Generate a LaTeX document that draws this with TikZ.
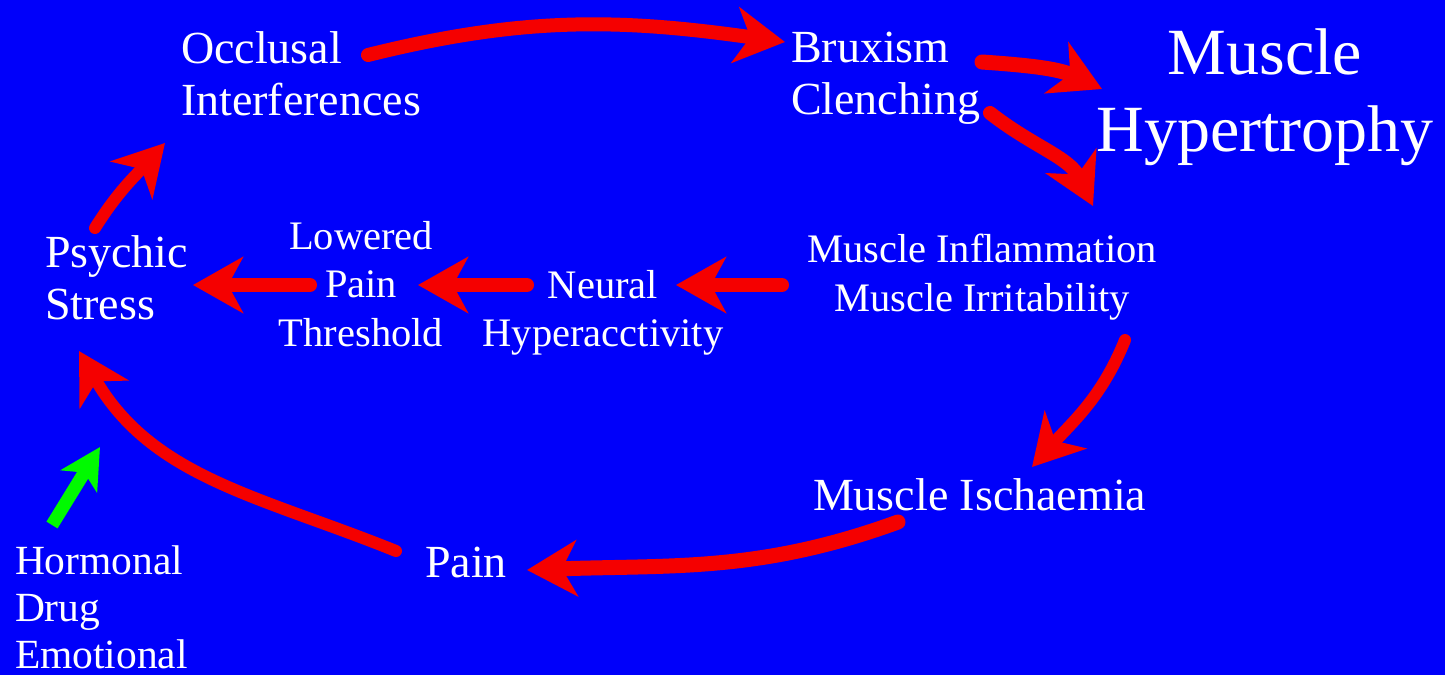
\documentclass[tikz,border=0pt]{standalone}
\usepackage{fontspec}
\setmainfont{Liberation Serif}
\usetikzlibrary{arrows.meta,calc}
\definecolor{bgblue}{RGB}{0,0,250}
\definecolor{arrred}{RGB}{245,0,0}
\definecolor{arrgreen}{RGB}{0,250,0}
\tikzset{
  lbl/.style={text=white, inner sep=0pt, outer sep=0pt},
  bigtxt/.style={lbl, font=\fontsize{46pt}{52pt}\selectfont},
  midtxt/.style={lbl, font=\fontsize{40.5pt}{48.5pt}\selectfont},
  hugetxt/.style={lbl, font=\fontsize{66pt}{77pt}\selectfont},
  redarr/.style={draw=arrred, line width=14pt, line cap=round,
    -{Stealth[length=50pt,width=56pt,inset=15pt]}},
  greenarr/.style={draw=arrgreen, line width=13pt,
    -{Stealth[length=40pt,width=42pt,inset=10pt]}}
}
\begin{document}
\begin{tikzpicture}[x=1pt,y=1pt]
\fill[bgblue] (0,0) rectangle (1445,-675);
\useasboundingbox (0,0) rectangle (1445,-675);

\node[bigtxt, anchor=north west, align=left] (occ) at (181,-32) {Occlusal\\Interferences};
\node[bigtxt, anchor=north west, align=left] (brux) at (791,-32) {Bruxism\\Clenching};
\node[hugetxt, anchor=north, align=center] (hyp) at (1265,-29) {Muscle\\Hypertrophy};
\node[midtxt, anchor=north, align=center] (infl) at (982,-234) {Muscle Inflammation\\Muscle Irritability};
\node[midtxt, anchor=north, align=center] (neural) at (603,-270) {Neural\\Hyperacctivity};
\node[midtxt, anchor=north, align=center] (lowered) at (361,-221) {Lowered\\Pain\\Threshold};
\node[bigtxt, anchor=north west, align=left] (psychic) at (45,-236) {Psychic\\Stress};
\node[bigtxt, anchor=north west] (isch) at (813,-479) {Muscle Ischaemia};
\node[bigtxt, anchor=north west] (pain) at (425,-547) {Pain};
\node[lbl, font=\fontsize{41.5pt}{47pt}\selectfont, anchor=north west, align=left] (horm) at (15,-546) {Hormonal\\Drug\\Emotional};

% cycle arrows
\draw[redarr] ($(occ.north west)+(187,-23)$) to[out=14,in=172] ($(brux.north west)+(-6,-10)$);
\draw[redarr, line width=15pt] ($(brux.north west)+(191,-30)$) to[out=-4,in=155] ($(hyp.north)+(-163,-60)$);
\draw[redarr] ($(brux.north west)+(199,-81)$) to[out=-38,in=116] ($(infl.north)+(111,28)$);
\draw[redarr] ($(infl.north)+(-200,-51)$) -- ($(neural.north)+(73,-15)$);
\draw[redarr] ($(neural.north)+(-76,-15)$) -- ($(lowered.north)+(57,-64)$);
\draw[redarr] ($(lowered.north)+(-51,-64)$) -- ($(psychic.north west)+(148,-49)$);
\draw[redarr, line width=12pt] ($(infl.north)+(143,-106)$) to[out=-112,in=48] ($(isch.north west)+(219,12)$);
\draw[redarr, line width=15pt] ($(isch.north west)+(85,-43)$) to[out=200,in=2] ($(pain.north west)+(102,-23)$);
\draw[redarr, line width=12pt] ($(pain.north west)+(-29,-4)$) to[out=158,in=-60] ($(psychic.north west)+(34,-115)$);
\draw[redarr, line width=12pt] ($(psychic.north west)+(50,8)$) to[out=58,in=-132] ($(occ.north west)+(-16,-111)$);

% external influence
\draw[greenarr] ($(horm.north west)+(37,21)$) -- ($(psychic.north west)+(55,-211)$);
\end{tikzpicture}
\end{document}
